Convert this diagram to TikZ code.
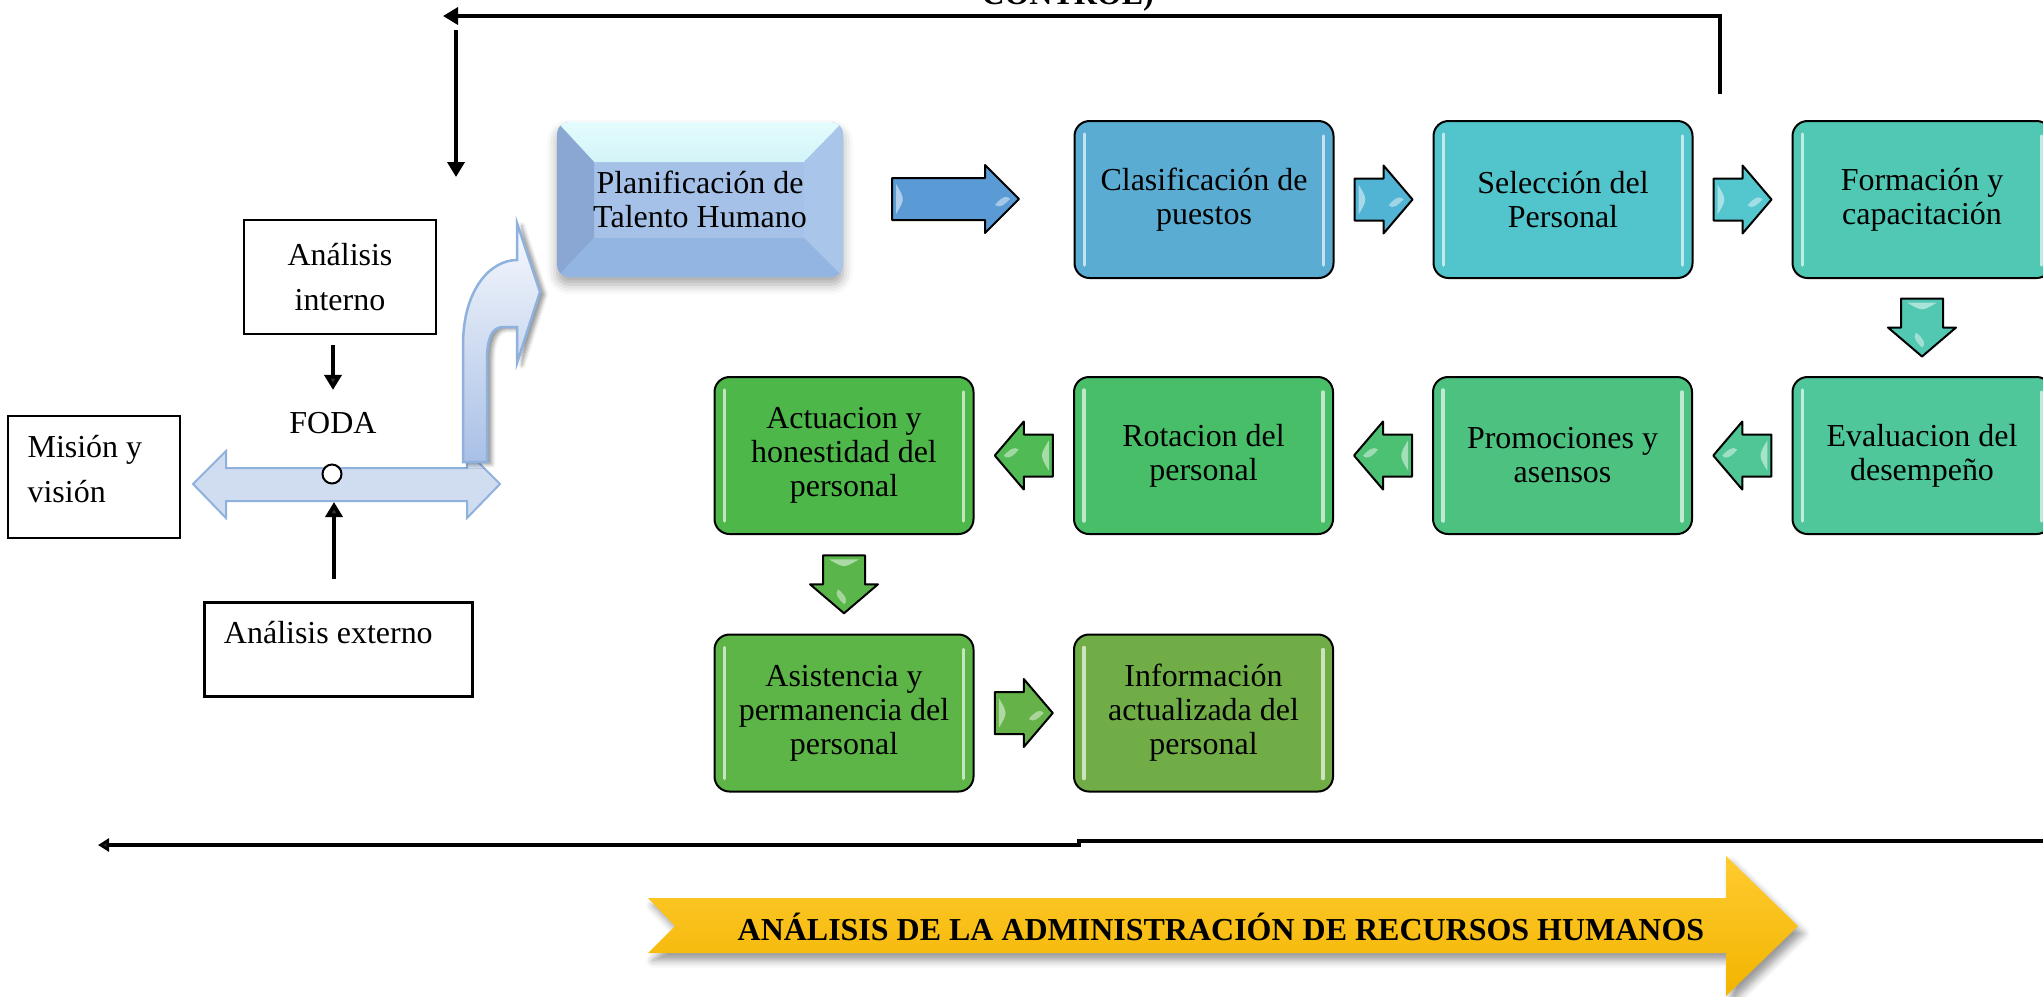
\documentclass[tikz,border=0pt]{standalone}
\usepackage{fontspec}
\setmainfont{Liberation Serif}
\usetikzlibrary{arrows.meta,calc,shadows.blur}

% one drawing unit
\newdimen\pxu
\pxu=0.4065pt

\definecolor{planTop}{HTML}{E4FCFD}
\definecolor{planTopB}{HTML}{D3F4F8}
\definecolor{planLeft}{HTML}{8AA7D3}
\definecolor{planRight}{HTML}{A9C5EA}
\definecolor{planBot}{HTML}{93B5E1}
\definecolor{planMid}{HTML}{A5C1E7}
\definecolor{dblFill}{HTML}{D0DDF0}
\definecolor{dblLine}{HTML}{8FB1DE}
\definecolor{bentTop}{HTML}{F7F9FD}
\definecolor{bentBot}{HTML}{A9C0E6}
\definecolor{bannerTop}{HTML}{FFCB30}
\definecolor{bannerBot}{HTML}{F2B400}

\definecolor{clasC}{RGB}{91,172,210}
\definecolor{selC}{RGB}{82,197,204}
\definecolor{formC}{RGB}{81,200,180}
\definecolor{evalC}{RGB}{80,198,155}
\definecolor{promC}{RGB}{76,193,128}
\definecolor{rotC}{RGB}{72,190,104}
\definecolor{actC}{RGB}{78,183,74}
\definecolor{asisC}{RGB}{92,181,70}
\definecolor{infoC}{RGB}{112,173,71}

\definecolor{aPlan}{RGB}{91,155,213}
\definecolor{aClas}{RGB}{82,180,212}
\definecolor{aSel}{RGB}{84,198,206}
\definecolor{aForm}{RGB}{82,200,178}
\definecolor{aEval}{RGB}{80,198,150}
\definecolor{aProm}{RGB}{76,192,115}
\definecolor{aRot}{RGB}{80,186,85}
\definecolor{aAct}{RGB}{90,182,75}
\definecolor{aAsis}{RGB}{100,178,72}

\tikzset{
  txt/.style={font=\fontsize{13}{13.8}\selectfont, align=center, inner sep=0pt},
  wtxt/.style={font=\fontsize{13}{18.3}\selectfont, inner sep=0pt},
  procbox/.style={draw=black, line width=2\pxu, rounded corners=15\pxu,
    minimum width=259\pxu, minimum height=157\pxu, txt, fill=#1},
  conn/.style={line width=1.5pt, -{Triangle[length=6.1pt,width=6.9pt]}},
  % block arrow: colour / half length / head length
  pics/blockarr/.style args={#1/#2/#3}{code={
    \draw[line width=2\pxu, line join=round, fill=#1]
      (-#2,-21) -- ({#2-#3},-21) -- ({#2-#3},-34) -- (#2,0)
      -- ({#2-#3},34) -- ({#2-#3},21) -- (-#2,21) -- cycle;
    \fill[white, opacity=.5] ({-#2+4},-15) .. controls ({-#2+13},0) .. ({-#2+4},15) -- cycle;
    \fill[white, opacity=.45] ({#2-24},6) .. controls ({#2-16},-4) and ({#2-11},-3) .. ({#2-9},0)
      .. controls ({#2-14},5) and ({#2-19},10) .. cycle;
  }},
}

% glossy edge strips of a process box
\newcommand\boxgloss[1]{%
  \draw[white, opacity=.65, line width=3.5\pxu, line cap=round]
    ($(#1.north west)+(11,14)$) -- ($(#1.south west)+(11,-14)$);
  \draw[white, opacity=.65, line width=3.5\pxu, line cap=round]
    ($(#1.north east)+(-11,16)$) -- ($(#1.south east)+(-11,-14)$);
}

\begin{document}
\begin{tikzpicture}[x=\pxu, y=-\pxu]
\useasboundingbox (0,0) rectangle (2043,996);
\clip (0,0) rectangle (2043,996);

% ---------- control loop at the top ----------
\node[font=\fontsize{13}{13.8}\selectfont\bfseries, anchor=base west, inner sep=0pt] (ctrl) at (981,4) {CONTROL)};
\coordinate (loopStart) at (1720,94);
\coordinate (loopEnd) at (443,16);
\draw[conn, line join=miter] (loopStart) |- (loopEnd);
\coordinate (fbTop) at (456,30);
\coordinate (fbBot) at (456,177);
\draw[conn] (fbTop) -- (fbBot);

% ---------- strategic analysis (left) ----------
\node[draw, line width=1.2\pxu, minimum width=192\pxu, minimum height=114\pxu, wtxt, align=center]
  (intern) at (340,277) {Análisis\\interno};
\node[draw, line width=1.8\pxu, minimum width=172\pxu, minimum height=122\pxu] (mision) at (94,477) {};
\node[wtxt, align=left, anchor=west] (misiontxt) at ($(mision.west)+(20,-8)$) {Misión y\\visión};
\node[draw, line width=3\pxu, minimum width=268\pxu, minimum height=94\pxu] (ext) at (338,649) {};
\node[wtxt, anchor=west] (exttxt) at ($(ext.west)+(21,-16)$) {Análisis externo};
\node[wtxt, text height=8.6pt, text depth=0pt] (foda) at (333,423) {FODA};

% double-headed arrow
\draw[draw=dblLine, fill=dblFill, line width=2\pxu]
  (193,484) -- (226,451) -- (226,468) -- (467,468) -- (467,451) -- (500,484)
  -- (467,518) -- (467,501) -- (226,501) -- (226,518) -- cycle;
\coordinate (dblBot) at (334,502);

% curved arrow up towards the planning box
\path[draw=dblLine, line width=2.5\pxu, top color=bentTop, bottom color=bentBot,
      blur shadow={shadow xshift=2pt, shadow yshift=-1pt, shadow blur radius=1.5pt, shadow opacity=40}]
  (463,462) -- (463,345) .. controls (463,290) and (490,260) .. (517,260)
  -- (517,223) -- (540,292) -- (517,363) -- (517,327) -- (502,327)
  .. controls (491,328) and (487,340) .. (487,360) -- (487,462) -- cycle;

\node[circle, draw, fill=white, line width=2\pxu, minimum size=19\pxu, inner sep=0pt] (foc) at (332,474) {};

\draw[conn] ($(intern.south -| foda.north)+(0,10)$) -- ([yshift=22\pxu]foda.north);
\draw[conn] ($(ext.north -| dblBot)+(0,-22)$) -- (dblBot);

% ---------- planning box (bevelled) ----------
\fill[planMid, rounded corners=12\pxu,
      blur shadow={shadow xshift=0pt, shadow yshift=-3pt, shadow blur radius=4pt, shadow opacity=35}]
  (557,122) rectangle (843,277);
\begin{scope}
  \clip[rounded corners=12\pxu] (557,122) rectangle (843,277);
  \shade[top color=planTop, bottom color=planTopB] (557,122) -- (843,122) -- (804,162) -- (594,162) -- cycle;
  \fill[planLeft] (557,122) -- (594,162) -- (594,238) -- (557,277) -- cycle;
  \fill[planRight] (843,122) -- (804,162) -- (804,238) -- (843,277) -- cycle;
  \fill[planBot] (557,277) -- (594,238) -- (804,238) -- (843,277) -- cycle;
\end{scope}
\node[txt] (plan) at (700,199.5) {Planificación de\\Talento Humano};

% ---------- process boxes ----------
\node[procbox=clasC] (clas) at (1204,199.5) {Clasificación de\\puestos};
\node[procbox=selC]  (sel)  at (1563,199.5) {Selección del\\Personal};
\node[procbox=formC] (form) at (1922,199.5) {Formación y\\capacitación};
\node[procbox=evalC] (eval) at (1922,455.5) {Evaluacion del\\desempeño};
\node[procbox=promC] (prom) at (1562.5,455.5) {Promociones y\\asensos};
\node[procbox=rotC]  (rot)  at (1203.5,455.5) {Rotacion del\\personal};
\node[procbox=actC]  (act)  at (844,455.5) {Actuacion y\\honestidad del\\personal};
\node[procbox=asisC] (asis) at (844,713) {Asistencia y\\permanencia del\\personal};
\node[procbox=infoC] (info) at (1203.5,713) {Información\\actualizada del\\personal};
\foreach \b in {clas,sel,form,eval,prom,rot,act,asis,info} {\boxgloss{\b}}

% ---------- block arrows between the steps ----------
\pic (aPC) at (955.5,199) {blockarr=aPlan/63.5/34};
\pic (aCS) at ($(clas.east)!0.5!(sel.west)$) {blockarr=aClas/29/29};
\pic (aSF) at ($(sel.east)!0.5!(form.west)$) {blockarr=aSel/29/29};
\pic[rotate=-90] (aFE) at ($(form.south)!0.5!(eval.north)$) {blockarr=aForm/29/29};
\pic[rotate=180] (aEP) at ($(eval.west)!0.5!(prom.east)$) {blockarr=aEval/29/29};
\pic[rotate=180] (aPR) at ($(prom.west)!0.5!(rot.east)$) {blockarr=aProm/29/29};
\pic[rotate=180] (aRA) at ($(rot.west)!0.5!(act.east)$) {blockarr=aRot/29/29};
\pic[rotate=-90] (aAA) at ($(act.south)!0.5!(asis.north)$) {blockarr=aAct/29/29};
\pic (aAI) at ($(asis.east)!0.5!(info.west)$) {blockarr=aAsis/29/29};

% ---------- bottom timeline ----------
\coordinate (tlStart) at (2060,841);
\coordinate (tlEnd) at (98,845);
\draw[line width=4\pxu, line join=miter, -{Triangle[length=4.5pt,width=5.3pt]}]
  (tlStart) -- (1079,841) -- (1079,845) -- (tlEnd);

% ---------- banner arrow ----------
\path[top color=bannerTop, bottom color=bannerBot,
      blur shadow={shadow xshift=2pt, shadow yshift=-3pt, shadow blur radius=3pt, shadow opacity=40}]
  (648,898) -- (1726,898) -- (1726,856) -- (1798,926) -- (1726,996) -- (1726,953)
  -- (648,953) -- (675,926) -- cycle;
\node[font=\fontsize{13}{13.8}\selectfont\bfseries, inner sep=0pt] (banner) at (1221,927)
  {ANÁLISIS DE LA ADMINISTRACIÓN DE RECURSOS HUMANOS};

\end{tikzpicture}
\end{document}
